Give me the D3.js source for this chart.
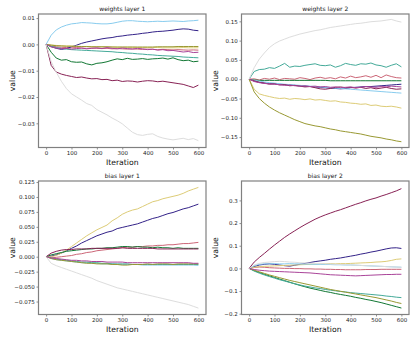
<!DOCTYPE html>
<meta charset="utf-8">
<style>
body { margin: 0; background: #fff; }
.axis text { font: 5.5px "DejaVu Sans", sans-serif; fill: #222; }
.axis line { stroke: #444; stroke-width: 0.6; }
.axis path { display: none; }
.frame { fill: none; stroke: #808080; stroke-width: 1.2; }
.title { font: 6px "DejaVu Sans", sans-serif; fill: #111; }
.label { font: 7.7px "DejaVu Sans", sans-serif; fill: #111; }
</style>
<div id="chart"></div>
<script src="https://cdn.jsdelivr.net/npm/d3@7"></script>
<script>

// iterations sampled every 20 steps
var iters = d3.range(0, 601, 20);

// Tol muted palette, drawn in this order
var colors = ["#CC6677", "#332288", "#DDCC77", "#117733", "#88CCEE", "#882255", "#44AA99", "#999933", "#AA4499", "#DDDDDD"];
var xTicks = [0, 100, 200, 300, 400, 500, 600];

// weights layer 1
var w1 = [
  [0,-0.0006,-0.0009,-0.0011,-0.0012,-0.0013,-0.0012,-0.0014,-0.0015,-0.0014,-0.0015,-0.0016,-0.0015,-0.0017,-0.0016,-0.0017,-0.0018,-0.0017,-0.0018,-0.0019,-0.0018,-0.0019,-0.0020,-0.0019,-0.0020,-0.0021,-0.0020,-0.0021,-0.0022,-0.0021,-0.0022],
  [0,-0.0008,-0.0015,-0.0019,-0.0016,-0.0009,-0.0003,0.0004,0.0009,0.0013,0.0017,0.0021,0.0024,0.0026,0.0030,0.0032,0.0035,0.0037,0.0039,0.0042,0.0044,0.0047,0.0049,0.0050,0.0052,0.0054,0.0057,0.0059,0.0058,0.0054,0.0052],
  [0,-0.0002,-0.0004,-0.0005,-0.0006,-0.0006,-0.0007,-0.0008,-0.0008,-0.0009,-0.0009,-0.0010,-0.0010,-0.0010,-0.0011,-0.0011,-0.0011,-0.0011,-0.0012,-0.0012,-0.0012,-0.0012,-0.0012,-0.0013,-0.0013,-0.0013,-0.0013,-0.0012,-0.0013,-0.0013,-0.0013],
  [0,-0.0030,-0.0052,-0.0060,-0.0058,-0.0066,-0.0068,-0.0067,-0.0074,-0.0078,-0.0072,-0.0070,-0.0066,-0.0060,-0.0055,-0.0058,-0.0053,-0.0057,-0.0056,-0.0054,-0.0057,-0.0055,-0.0054,-0.0052,-0.0056,-0.0051,-0.0058,-0.0062,-0.0060,-0.0066,-0.0064],
  [0,0.0035,0.0055,0.0066,0.0073,0.0078,0.0080,0.0083,0.0082,0.0081,0.0079,0.0078,0.0078,0.0080,0.0084,0.0088,0.0090,0.0090,0.0088,0.0087,0.0086,0.0087,0.0088,0.0087,0.0088,0.0089,0.0088,0.0087,0.0089,0.0090,0.0092],
  [0,-0.0080,-0.0105,-0.0113,-0.0118,-0.0122,-0.0126,-0.0124,-0.0128,-0.0131,-0.0130,-0.0134,-0.0133,-0.0138,-0.0136,-0.0141,-0.0139,-0.0140,-0.0143,-0.0140,-0.0138,-0.0139,-0.0142,-0.0140,-0.0143,-0.0146,-0.0149,-0.0152,-0.0158,-0.0164,-0.0155],
  [0,-0.0008,-0.0012,-0.0015,-0.0018,-0.0020,-0.0021,-0.0022,-0.0023,-0.0024,-0.0025,-0.0026,-0.0027,-0.0028,-0.0030,-0.0031,-0.0033,-0.0034,-0.0036,-0.0037,-0.0039,-0.0040,-0.0042,-0.0043,-0.0044,-0.0045,-0.0046,-0.0048,-0.0049,-0.0050,-0.0051],
  [0,-0.0003,-0.0005,-0.0006,-0.0007,-0.0007,-0.0008,-0.0008,-0.0008,-0.0009,-0.0009,-0.0009,-0.0009,-0.0010,-0.0010,-0.0010,-0.0010,-0.0010,-0.0010,-0.0010,-0.0010,-0.0010,-0.0009,-0.0009,-0.0009,-0.0009,-0.0008,-0.0008,-0.0008,-0.0008,-0.0008],
  [0,-0.0010,-0.0014,-0.0016,-0.0015,-0.0018,-0.0016,-0.0014,-0.0017,-0.0015,-0.0013,-0.0016,-0.0012,-0.0015,-0.0017,-0.0014,-0.0016,-0.0018,-0.0015,-0.0017,-0.0020,-0.0018,-0.0022,-0.0020,-0.0024,-0.0023,-0.0026,-0.0029,-0.0027,-0.0031,-0.0030],
  [0,-0.0065,-0.0106,-0.0140,-0.0168,-0.0188,-0.0200,-0.0212,-0.0225,-0.0232,-0.0248,-0.0258,-0.0268,-0.0280,-0.0290,-0.0302,-0.0318,-0.0334,-0.0343,-0.0346,-0.0342,-0.0340,-0.0350,-0.0356,-0.0360,-0.0363,-0.0360,-0.0357,-0.0362,-0.0358,-0.0366]
];

// weights layer 2
var w2 = [
  [0,0.001,-0.002,0.002,0.000,0.003,-0.001,0.002,0.001,0.000,0.004,0.002,-0.001,0.003,0.005,0.002,0.004,0.001,0.006,0.003,0.008,0.004,0.006,0.009,0.005,0.010,0.004,0.011,0.007,0.004,0.003],
  [0,-0.005,-0.008,-0.010,-0.011,-0.012,-0.013,-0.014,-0.015,-0.016,-0.017,-0.018,-0.019,-0.020,-0.021,-0.022,-0.023,-0.024,-0.025,-0.024,-0.022,-0.021,-0.020,-0.019,-0.019,-0.018,-0.017,-0.016,-0.015,-0.014,-0.013],
  [0,-0.026,-0.038,-0.042,-0.045,-0.048,-0.050,-0.049,-0.052,-0.050,-0.051,-0.053,-0.051,-0.054,-0.053,-0.055,-0.057,-0.056,-0.059,-0.060,-0.062,-0.063,-0.065,-0.064,-0.068,-0.067,-0.070,-0.071,-0.070,-0.072,-0.075],
  [0,-0.002,-0.003,-0.003,-0.003,-0.003,-0.003,-0.003,-0.003,-0.003,-0.003,-0.003,-0.003,-0.003,-0.003,-0.003,-0.004,-0.004,-0.004,-0.004,-0.004,-0.004,-0.004,-0.004,-0.004,-0.004,-0.004,-0.004,-0.004,-0.004,-0.004],
  [0,-0.003,-0.005,-0.007,-0.009,-0.010,-0.012,-0.013,-0.014,-0.015,-0.016,-0.017,-0.018,-0.019,-0.020,-0.021,-0.022,-0.023,-0.024,-0.025,-0.026,-0.027,-0.028,-0.029,-0.030,-0.031,-0.032,-0.033,-0.034,-0.035,-0.036],
  [0,-0.004,-0.008,-0.010,-0.013,-0.012,-0.015,-0.014,-0.017,-0.016,-0.018,-0.020,-0.019,-0.022,-0.025,-0.026,-0.024,-0.021,-0.020,-0.022,-0.021,-0.023,-0.021,-0.024,-0.022,-0.025,-0.023,-0.021,-0.024,-0.026,-0.025],
  [0,0.020,0.025,0.026,0.030,0.028,0.034,0.041,0.031,0.034,0.033,0.036,0.038,0.040,0.036,0.035,0.037,0.031,0.035,0.041,0.038,0.036,0.040,0.039,0.042,0.037,0.035,0.031,0.036,0.040,0.032],
  [0,-0.033,-0.050,-0.062,-0.072,-0.080,-0.087,-0.093,-0.099,-0.105,-0.110,-0.115,-0.118,-0.121,-0.123,-0.126,-0.129,-0.131,-0.134,-0.136,-0.138,-0.140,-0.142,-0.145,-0.148,-0.150,-0.152,-0.155,-0.157,-0.160,-0.162],
  [0,-0.006,-0.009,-0.011,-0.012,-0.013,-0.014,-0.016,-0.015,-0.017,-0.018,-0.017,-0.019,-0.018,-0.020,-0.019,-0.021,-0.020,-0.022,-0.021,-0.020,-0.022,-0.021,-0.019,-0.020,-0.021,-0.019,-0.020,-0.018,-0.019,-0.020],
  [0,0.030,0.052,0.068,0.082,0.092,0.099,0.104,0.109,0.113,0.117,0.120,0.123,0.126,0.128,0.131,0.134,0.136,0.138,0.140,0.142,0.144,0.145,0.147,0.149,0.150,0.151,0.153,0.155,0.151,0.148]
];

// bias layer 1
var b1 = [
  [0,-0.002,-0.001,0.000,0.001,0.002,0.004,0.005,0.007,0.008,0.010,0.011,0.012,0.013,0.014,0.015,0.016,0.016,0.017,0.017,0.018,0.018,0.019,0.019,0.020,0.020,0.021,0.022,0.022,0.023,0.024],
  [0,0.001,0.003,0.006,0.010,0.014,0.018,0.023,0.027,0.031,0.035,0.038,0.041,0.043,0.047,0.049,0.051,0.053,0.055,0.058,0.061,0.064,0.066,0.069,0.072,0.074,0.077,0.080,0.082,0.085,0.088],
  [0,0.000,0.002,0.006,0.011,0.017,0.023,0.029,0.035,0.040,0.045,0.049,0.053,0.060,0.065,0.071,0.075,0.078,0.080,0.084,0.088,0.092,0.094,0.097,0.099,0.101,0.103,0.106,0.110,0.113,0.116],
  [0,0.003,0.005,0.007,0.009,0.010,0.011,0.012,0.013,0.013,0.014,0.014,0.015,0.015,0.016,0.017,0.017,0.016,0.017,0.016,0.016,0.015,0.016,0.015,0.015,0.014,0.015,0.014,0.014,0.014,0.014],
  [0,-0.003,-0.005,-0.006,-0.007,-0.008,-0.009,-0.010,-0.010,-0.011,-0.011,-0.012,-0.012,-0.012,-0.013,-0.013,-0.013,-0.013,-0.013,-0.014,-0.014,-0.014,-0.014,-0.014,-0.014,-0.014,-0.014,-0.014,-0.014,-0.014,-0.0145],
  [0,0.006,0.009,0.011,0.012,0.012,0.013,0.013,0.013,0.014,0.014,0.014,0.014,0.014,0.014,0.015,0.014,0.014,0.014,0.014,0.014,0.014,0.013,0.013,0.013,0.013,0.013,0.013,0.013,0.013,0.013],
  [0,-0.002,-0.004,-0.005,-0.006,-0.007,-0.008,-0.009,-0.009,-0.010,-0.010,-0.011,-0.011,-0.012,-0.012,-0.012,-0.012,-0.013,-0.013,-0.013,-0.013,-0.013,-0.013,-0.013,-0.013,-0.013,-0.013,-0.013,-0.013,-0.013,-0.013],
  [0,-0.003,-0.005,-0.006,-0.007,-0.008,-0.009,-0.010,-0.011,-0.011,-0.012,-0.012,-0.012,-0.013,-0.013,-0.014,-0.014,-0.013,-0.013,-0.013,-0.012,-0.013,-0.012,-0.012,-0.012,-0.013,-0.012,-0.012,-0.012,-0.012,-0.012],
  [0,-0.002,-0.003,-0.004,-0.005,-0.006,-0.006,-0.007,-0.007,-0.008,-0.008,-0.008,-0.009,-0.009,-0.009,-0.009,-0.010,-0.010,-0.010,-0.010,-0.010,-0.010,-0.010,-0.010,-0.010,-0.010,-0.010,-0.010,-0.010,-0.011,-0.011],
  [0,-0.011,-0.015,-0.018,-0.021,-0.024,-0.027,-0.030,-0.033,-0.036,-0.040,-0.043,-0.046,-0.049,-0.052,-0.054,-0.056,-0.058,-0.060,-0.062,-0.064,-0.066,-0.068,-0.070,-0.072,-0.074,-0.076,-0.078,-0.080,-0.083,-0.086]
];

// bias layer 2
var b2 = [
  [0,0.004,0.006,0.005,0.003,0.002,0.001,0.000,0.000,-0.001,-0.001,-0.002,-0.002,-0.003,-0.003,-0.004,-0.004,-0.005,-0.005,-0.006,-0.006,-0.006,-0.006,-0.005,-0.005,-0.005,-0.004,-0.004,-0.004,-0.004,-0.004],
  [0,0.008,0.015,0.018,0.020,0.018,0.015,0.012,0.010,0.014,0.018,0.022,0.026,0.030,0.033,0.036,0.040,0.043,0.046,0.050,0.054,0.058,0.063,0.067,0.072,0.076,0.081,0.086,0.090,0.091,0.088],
  [0,0.005,0.008,0.009,0.010,0.011,0.012,0.013,0.014,0.015,0.016,0.017,0.018,0.019,0.020,0.020,0.021,0.020,0.021,0.021,0.022,0.023,0.024,0.025,0.026,0.028,0.029,0.031,0.035,0.040,0.042],
  [0,-0.010,-0.018,-0.026,-0.033,-0.040,-0.047,-0.054,-0.061,-0.068,-0.075,-0.081,-0.087,-0.092,-0.097,-0.102,-0.106,-0.111,-0.115,-0.119,-0.123,-0.128,-0.132,-0.137,-0.141,-0.146,-0.151,-0.157,-0.163,-0.169,-0.175],
  [0,0.012,0.018,0.020,0.020,0.021,0.020,0.020,0.021,0.020,0.020,0.019,0.019,0.018,0.018,0.017,0.017,0.016,0.016,0.015,0.015,0.014,0.013,0.012,0.011,0.010,0.009,0.008,0.007,0.006,0.005],
  [0,0.028,0.048,0.066,0.085,0.103,0.120,0.137,0.152,0.166,0.180,0.193,0.205,0.217,0.227,0.236,0.244,0.252,0.259,0.267,0.275,0.283,0.290,0.298,0.305,0.311,0.319,0.326,0.334,0.342,0.352],
  [0,-0.012,-0.021,-0.029,-0.036,-0.043,-0.050,-0.056,-0.062,-0.068,-0.073,-0.078,-0.082,-0.086,-0.089,-0.093,-0.096,-0.099,-0.102,-0.104,-0.107,-0.109,-0.111,-0.113,-0.115,-0.117,-0.119,-0.122,-0.124,-0.127,-0.129],
  [0,-0.008,-0.015,-0.022,-0.029,-0.035,-0.041,-0.047,-0.053,-0.058,-0.063,-0.068,-0.073,-0.078,-0.083,-0.088,-0.093,-0.097,-0.101,-0.105,-0.109,-0.113,-0.117,-0.121,-0.125,-0.129,-0.134,-0.139,-0.144,-0.150,-0.155],
  [0,-0.005,-0.008,-0.010,-0.012,-0.013,-0.014,-0.015,-0.016,-0.017,-0.018,-0.019,-0.020,-0.022,-0.024,-0.026,-0.028,-0.029,-0.030,-0.031,-0.032,-0.033,-0.032,-0.031,-0.030,-0.029,-0.028,-0.027,-0.027,-0.026,-0.026],
  [0,0.015,0.022,0.026,0.028,0.030,0.031,0.030,0.028,0.027,0.025,0.024,0.023,0.022,0.021,0.020,0.019,0.018,0.017,0.016,0.015,0.014,0.013,0.012,0.011,0.010,0.009,0.008,0.007,0.006,0.005]
];

var panels = [
  {title: "weights layer 1", series: w1, ydom: [-0.0392, 0.01155], yticks: [-0.03, -0.02, -0.01, 0.00, 0.01], fmt: ".2f", col: 0, row: 0},
  {title: "weights layer 2", series: w2, ydom: [-0.177, 0.169], yticks: [-0.15, -0.10, -0.05, 0.00, 0.05, 0.10, 0.15], fmt: ".2f", col: 1, row: 0},
  {title: "bias layer 1", series: b1, ydom: [-0.0967, 0.1267], yticks: [-0.075, -0.050, -0.025, 0.000, 0.025, 0.050, 0.075, 0.100, 0.125], fmt: ".3f", col: 0, row: 1},
  {title: "bias layer 2", series: b2, ydom: [-0.2035, 0.3857], yticks: [-0.2, -0.1, 0.0, 0.1, 0.2, 0.3], fmt: ".1f", col: 1, row: 1}
];

var W = 415, H = 340,
    colX = [38.5, 241.5], rowY = [14, 181],
    pw = 167.5, ph = 133.5;

var svg = d3.select("#chart").append("svg")
    .attr("width", W)
    .attr("height", H);

panels.forEach(function(p) {
  var g = svg.append("g")
      .attr("transform", "translate(" + colX[p.col] + "," + rowY[p.row] + ")");

  var x = d3.scaleLinear().domain([-30, 630]).range([0, pw]);
  var y = d3.scaleLinear().domain(p.ydom).range([ph, 0]);

  var line = d3.line()
      .x(function(d, i) { return x(iters[i]); })
      .y(function(d) { return y(d); });

  g.selectAll(".series")
    .data(p.series)
    .enter().append("path")
      .attr("class", "series")
      .attr("fill", "none")
      .attr("stroke", function(d, i) { return colors[i]; })
      .attr("stroke-width", 1)
      .attr("stroke-linejoin", "round")
      .attr("d", line);

  g.append("g")
      .attr("class", "axis")
      .attr("transform", "translate(0," + ph + ")")
      .call(d3.axisBottom(x).tickValues(xTicks).tickSize(2).tickPadding(1.8).tickFormat(d3.format("d")));

  g.append("g")
      .attr("class", "axis")
      .call(d3.axisLeft(y).tickValues(p.yticks).tickSize(2).tickPadding(1.8).tickFormat(d3.format(p.fmt)));

  g.append("rect")
      .attr("class", "frame")
      .attr("width", pw)
      .attr("height", ph);

  g.append("text")
      .attr("class", "title")
      .attr("x", pw / 2)
      .attr("y", -3.2)
      .attr("text-anchor", "middle")
      .text(p.title);

  g.append("text")
      .attr("class", "label")
      .attr("x", pw / 2)
      .attr("y", ph + 17.5)
      .attr("text-anchor", "middle")
      .text("Iteration");

  g.append("text")
      .attr("class", "label")
      .attr("transform", "translate(-23.5," + (ph / 2) + ")rotate(-90)")
      .attr("text-anchor", "middle")
      .text("value");
});

</script>
